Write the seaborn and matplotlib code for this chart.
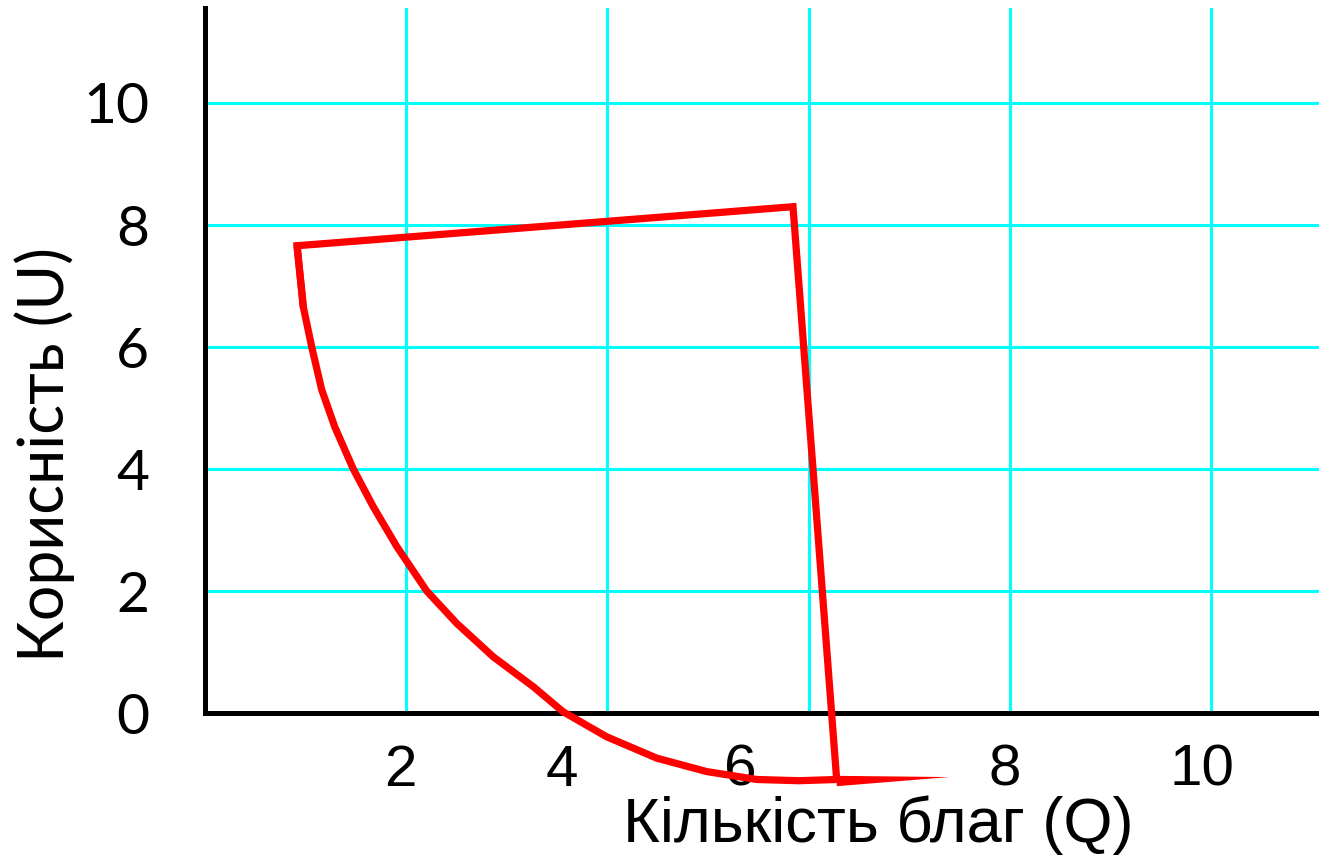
import numpy as np
import pandas as pd
import matplotlib
matplotlib.use("Agg")
import matplotlib.pyplot as plt
import seaborn as sns

sns.set_style("white")
plt.rcParams['font.family'] = ['Liberation Sans', 'DejaVu Sans']
plt.rcParams['text.color'] = 'black'
plt.rcParams['axes.labelcolor'] = 'black'
plt.rcParams['xtick.color'] = 'black'
plt.rcParams['ytick.color'] = 'black'

# lower arc, from the join back up to the top-left corner
arc_q = [6.279, 5.905, 5.484, 4.987, 4.490, 3.993, 3.56, 3.264, 2.866, 2.502,
         2.204, 1.906, 1.673, 1.474, 1.29, 1.160, 1.061, 0.977, 0.915]
arc_u = [-1.09, -1.11, -1.09, -0.96, -0.74, -0.39, 0.02, 0.43, 0.92, 1.47,
         2.00, 2.73, 3.38, 4.00, 4.69, 5.30, 6.00, 6.66, 7.66]

# straight edges: top-left corner -> top-right corner -> down to the join
edge_q = [0.977, 0.915, 5.845, 6.279]
edge_u = [6.66, 7.66, 8.30, -1.09]

# tapered tail to the right of the join
tail_q = [6.28, 7.40, 6.28]
tail_u = [-1.03, -1.05, -1.20]

grid_ticks = [2, 4, 6, 8, 10]
y_ticks = [0, 2, 4, 6, 8, 10]
x_label_pos = [1.94, 3.55, 5.32, 7.95, 9.91]
x_labels = ["2", "4", "6", "8", "10"]

arc = pd.DataFrame({"Q": arc_q, "U": arc_u})
edge = pd.DataFrame({"Q": edge_q, "U": edge_u})

fig = plt.figure(figsize=(13.19, 8.61), dpi=100)
ax = fig.add_axes([205 / 1319, 148 / 861, 1114 / 1319, 705 / 861])

sns.lineplot(data=arc, x="Q", y="U", sort=False, estimator=None, color="#ff0000",
             linewidth=5.2, clip_on=False, solid_joinstyle="round",
             solid_capstyle="round", zorder=5, ax=ax)
sns.lineplot(data=edge, x="Q", y="U", sort=False, estimator=None, color="#ff0000",
             linewidth=5.2, clip_on=False, solid_joinstyle="miter", zorder=5, ax=ax)
ax.fill(tail_q, tail_u, color="#ff0000", clip_on=False, zorder=5, linewidth=0)

ax.set_xlim(0, 1114 / 100.6)
ax.set_ylim(0, 705 / 61)

for s in ["top", "right"]:
    ax.spines[s].set_visible(False)
for s in ["left", "bottom"]:
    ax.spines[s].set_color("black")
    ax.spines[s].set_linewidth(3.6)
    ax.spines[s].set_zorder(4)

ax.set_xticks(grid_ticks, [""] * len(grid_ticks))
ax.set_xticks(x_label_pos, x_labels, minor=True, fontsize=42)
ax.set_yticks(y_ticks, [str(v) for v in y_ticks], fontsize=41, fontfamily="Lato")

ax.tick_params(axis="x", which="major", direction="in", length=18, width=2.2, color="black")
ax.tick_params(axis="x", which="minor", direction="in", length=0, pad=22)
ax.tick_params(axis="y", which="major", direction="in", length=25, width=2.2, color="black", pad=40)

ax.grid(True, which="major", color="#00ffff", linewidth=2.2)
ax.set_axisbelow(True)

ax.set_xlabel("Кількість благ (Q)", fontsize=45.5)
ax.xaxis.label.set_va("center")
ax.xaxis.set_label_coords((878 - 205) / 1114, (713 - 825) / 705)

ax.set_ylabel("Корисність (U)", fontsize=45, fontfamily="Lato")
ax.yaxis.label.set_va("center")
ax.yaxis.set_label_coords((45 - 205) / 1114, (713 - 455) / 705)

plt.savefig("out.png", dpi=100)
